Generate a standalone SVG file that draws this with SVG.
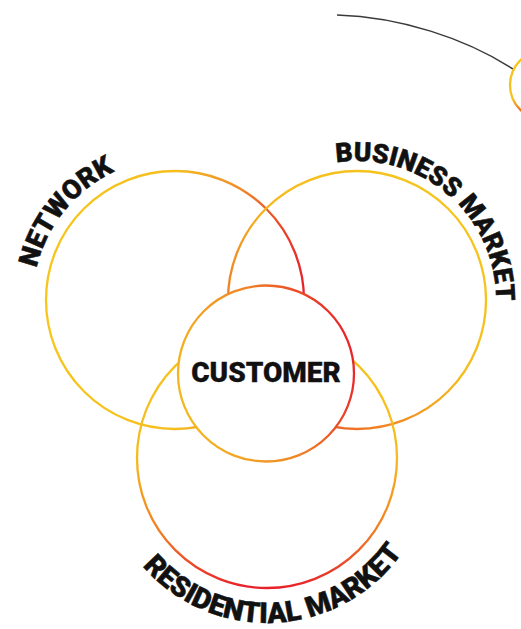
<svg xmlns="http://www.w3.org/2000/svg" xmlns:xlink="http://www.w3.org/1999/xlink" width="521" height="629" viewBox="0 0 521 629">
  <style>
    .ring { fill: none; stroke-width: 2.3; }
    .lbl { font-family: Roboto, "Liberation Sans", sans-serif; font-weight: 900; font-size: 27px; fill: #111; stroke: #111; stroke-width: 0.5; }
    .ctr { font-family: Roboto, "Liberation Sans", sans-serif; font-weight: 900; font-size: 28px; fill: #111; stroke: #111; stroke-width: 0.3; }
  </style>
  <defs>
    <linearGradient id="gNet" gradientUnits="userSpaceOnUse" x1="46" y1="300" x2="304" y2="300">
      <stop offset="0" stop-color="#F6C61C"/>
      <stop offset="0.5" stop-color="#F5BE1E"/>
      <stop offset="0.75" stop-color="#F08A25"/>
      <stop offset="1" stop-color="#E8222A"/>
    </linearGradient>
    <linearGradient id="gBus" gradientUnits="userSpaceOnUse" x1="470" y1="190" x2="250" y2="420">
      <stop offset="0" stop-color="#F6C61C"/>
      <stop offset="0.45" stop-color="#F5BC1F"/>
      <stop offset="0.75" stop-color="#F08025"/>
      <stop offset="1" stop-color="#E8302A"/>
    </linearGradient>
    <linearGradient id="gRes" gradientUnits="userSpaceOnUse" x1="267" y1="330" x2="267" y2="588">
      <stop offset="0" stop-color="#F6C61C"/>
      <stop offset="0.5" stop-color="#F5BA1F"/>
      <stop offset="0.8" stop-color="#F07825"/>
      <stop offset="1" stop-color="#E8202A"/>
    </linearGradient>
    <linearGradient id="gCus" gradientUnits="userSpaceOnUse" x1="178" y1="400" x2="354" y2="345">
      <stop offset="0" stop-color="#F5B81F"/>
      <stop offset="0.5" stop-color="#F08A25"/>
      <stop offset="1" stop-color="#E8202A"/>
    </linearGradient>
    <linearGradient id="gTop" gradientUnits="userSpaceOnUse" x1="0" y1="50" x2="0" y2="120">
      <stop offset="0" stop-color="#F6C61C"/>
      <stop offset="0.7" stop-color="#F6C01E"/>
      <stop offset="1" stop-color="#E8302A"/>
    </linearGradient>
    <path id="pNet" d="M42.4,351.0 A142,142 0 0 1 197.2,159.8"/>
    <path id="pBus" d="M309.5,169.4 A139,139 0 0 1 493.0,328.9"/>
    <path id="pRes" d="M112.0,514.4 A165,165 0 0 0 427.1,497.9"/>
  </defs>

  <g id="connectors">
    <path d="M337,15 C400,17 465,38 513,69" fill="none" stroke="#3a3a3a" stroke-width="1.5"/>
  </g>

  <g id="orbit-node">
    <circle class="ring" cx="545" cy="85" r="35" stroke="url(#gTop)"/>
  </g>

  <g id="network">
    <circle class="ring" cx="175" cy="300" r="129" stroke="url(#gNet)"/>
    <text class="lbl"><textPath xlink:href="#pNet" href="#pNet" startOffset="50%" text-anchor="middle">NETWORK</textPath></text>
  </g>

  <g id="business-market">
    <circle class="ring" cx="357" cy="300" r="129" stroke="url(#gBus)"/>
    <text class="lbl" style="font-size:26.5px"><textPath xlink:href="#pBus" href="#pBus" startOffset="50%" text-anchor="middle">BUSINESS MARKET</textPath></text>
  </g>

  <g id="residential-market">
    <circle class="ring" cx="267" cy="458" r="130" stroke="url(#gRes)"/>
    <text class="lbl" style="font-size:28.5px"><textPath xlink:href="#pRes" href="#pRes" startOffset="50%" text-anchor="middle">RESIDENTIAL MARKET</textPath></text>
  </g>

  <g id="customer">
    <circle cx="266" cy="373.5" r="88" fill="#fff" stroke="url(#gCus)" stroke-width="2.3"/>
    <text class="ctr" x="266" y="382" text-anchor="middle">CUSTOMER</text>
  </g>
</svg>
